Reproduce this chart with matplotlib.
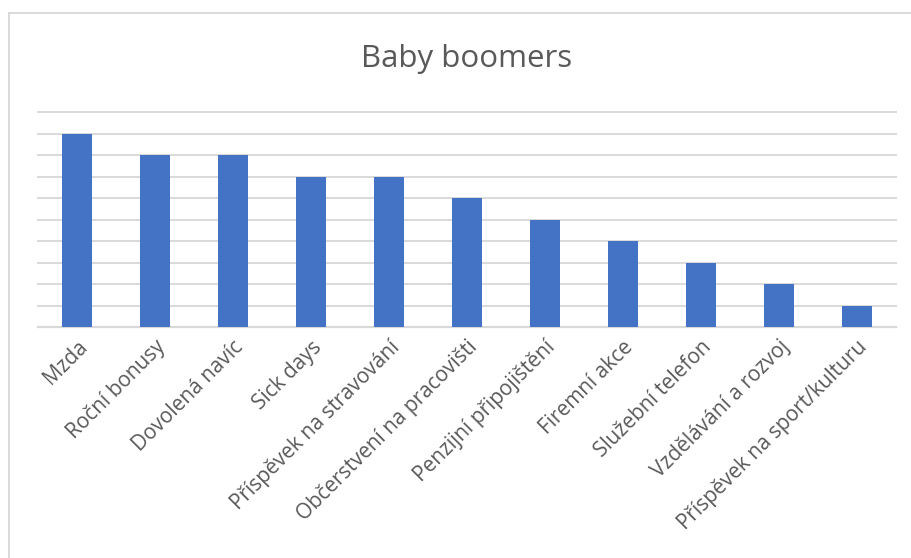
import matplotlib.pyplot as plt
from matplotlib.lines import Line2D

# categories and values
benefits = ['Mzda', 'Roční bonusy', 'Dovolená navíc', 'Sick days',
            'Příspěvek na stravování', 'Občerstvení na pracovišti',
            'Penzijní připojištění', 'Firemní akce', 'Služební telefon',
            'Vzdělávání a rozvoj', 'Příspěvek na sport/kulturu']
scores = [9, 8, 8, 7, 7, 6, 5, 4, 3, 2, 1]
y_ticks = list(range(0, 11))

plt.rcParams['font.family'] = ['Open Sans', 'DejaVu Sans']
text_color = '#595959'
grid_color = '#D9D9D9'

fig = plt.figure(figsize=(9.12, 5.58), dpi=100)
ax = fig.add_axes([38 / 912, 1 - 327 / 558, (896 - 38) / 912, (327 - 112) / 558])

ax.bar(range(len(benefits)), scores, width=0.39, color='#4472C4', zorder=3)
ax.set_xlim(-0.5, len(benefits) - 0.5)
ax.set_ylim(0, 10)
ax.set_yticks(y_ticks)
ax.set_yticklabels([])
ax.grid(True, axis='y', color=grid_color, linewidth=1.4)
for gl in ax.get_ygridlines():
    gl.set_clip_on(False)
ax.set_axisbelow(True)
ax.tick_params(axis='both', length=0)
for side in ['left', 'right', 'top']:
    ax.spines[side].set_visible(False)
ax.spines['bottom'].set_color(grid_color)
ax.spines['bottom'].set_linewidth(1.6)

ax.set_xticks(range(len(benefits)))
ax.set_xticklabels(benefits, rotation=45, ha='right', rotation_mode='anchor',
                   fontsize=15, color=text_color)
ax.tick_params(axis='x', pad=7)

fig.text(467 / 912, 1 - 59 / 558, 'Baby boomers', ha='center', va='center',
         fontsize=22.5, color=text_color)

# chart area border (left and top edges visible in the crop)
fig.add_artist(Line2D([9 / 912, 9 / 912], [0, 1 - 13 / 558], transform=fig.transFigure,
                      color=grid_color, linewidth=1.4))
fig.add_artist(Line2D([9 / 912, 1], [1 - 13 / 558, 1 - 13 / 558], transform=fig.transFigure,
                      color=grid_color, linewidth=1.4))

fig.savefig('out.png', dpi=100, facecolor='white')
